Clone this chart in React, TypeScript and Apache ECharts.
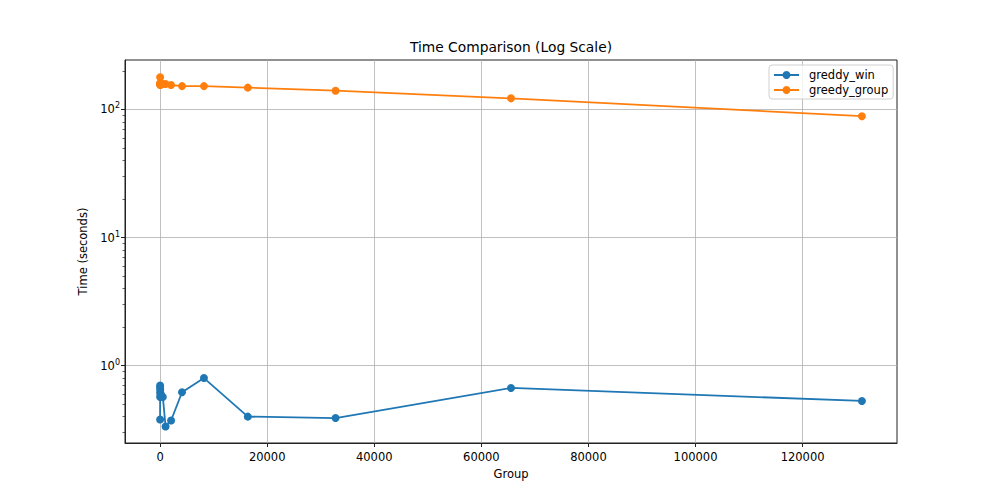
import React, { useEffect, useRef } from "react";
import * as echarts from "echarts";

const groups = [1, 2, 4, 8, 16, 32, 64, 128, 256, 512, 1024, 2048, 4096, 8192, 16384, 32768, 65536, 131072];
const greedyWin = [0.38, 0.57, 0.7, 0.68, 0.65, 0.62, 0.6, 0.59, 0.58, 0.57, 0.335, 0.373, 0.62, 0.8, 0.4, 0.39, 0.67, 0.53];
const greedyGroup = [178, 155, 160, 159, 158, 157, 157, 156, 157, 158, 158, 155, 152, 152, 148, 140, 122, 88.5];
const xTicks = [0, 20000, 40000, 60000, 80000, 100000, 120000];
const yTicks = [1, 10, 100];
const yMinorTicks = [0.3, 0.4, 0.5, 0.6, 0.7, 0.8, 0.9, 2, 3, 4, 5, 6, 7, 8, 9, 20, 30, 40, 50, 60, 70, 80, 90, 200];
const seriesNames = ["greddy_win", "greedy_group"];
const colors = ["#1f77b4", "#ff7f0e"];

const FONT = "DejaVu Sans";

export default function App() {
  const ref = useRef<HTMLDivElement>(null);
  useEffect(() => {
    if (!ref.current) return;
    const chart = echarts.init(ref.current, undefined, { renderer: "svg" });
    const mk = (vals: number[]) => groups.map((g, i) => [g, vals[i]]);
    const supMap: Record<number, string> = { 1: "0", 10: "1", 100: "2" };
    chart.setOption({
      animation: false,
      backgroundColor: "#fff",
      textStyle: { fontFamily: FONT },
      graphic: [
        {
          type: "text",
          x: 511,
          y: 47,
          style: {
            text: "Time Comparison (Log Scale)",
            fontFamily: FONT,
            fontSize: 13.8,
            fill: "#000",
            align: "center",
            verticalAlign: "middle",
          },
        },
      ],
      grid: {
        left: 125,
        right: 99,
        top: 60,
        bottom: 55,
        show: true,
        borderColor: "#222",
        borderWidth: 1,
        backgroundColor: "transparent",
      },
      legend: {
        left: 769,
        top: 65,
        orient: "vertical",
        itemGap: 3,
        itemWidth: 25,
        itemHeight: 10,
        padding: [4, 5, 3, 4],
        backgroundColor: "rgba(255,255,255,0.8)",
        borderColor: "#d0d0d0",
        borderWidth: 1,
        borderRadius: 3,
        textStyle: { fontFamily: FONT, fontSize: 11.5, color: "#000", padding: [0, 0, 0, 5] },
        data: seriesNames,
      },
      xAxis: {
        type: "value",
        min: -6554,
        max: 137626,
        splitNumber: 7,
        name: "Group",
        nameLocation: "middle",
        nameGap: 22,
        nameTextStyle: { fontFamily: FONT, fontSize: 11.5, color: "#000" },
        axisLine: { show: true, onZero: false, lineStyle: { color: "#222", width: 1 } },
        axisTick: { show: true, length: 4, customValues: xTicks, lineStyle: { color: "#222" } },
        axisLabel: {
          customValues: xTicks,
          margin: 8,
          fontFamily: FONT,
          fontSize: 11.5,
          color: "#000",
          formatter: (v: number) => String(v),
        },
        splitLine: { show: true, lineStyle: { color: "#b0b0b0", width: 0.8 } },
      },
      yAxis: [
        {
          type: "log",
          logBase: 10,
          min: 0.249,
          max: 243,
          position: "left",
          name: "Time (seconds)",
          nameLocation: "middle",
          nameGap: 33,
          nameRotate: 90,
          nameTextStyle: { fontFamily: FONT, fontSize: 11.5, color: "#000" },
          axisLine: { show: true, onZero: false, lineStyle: { color: "#222", width: 1 } },
          axisTick: { show: true, length: 4, customValues: yTicks, lineStyle: { color: "#222" } },
          axisLabel: {
            customValues: yTicks,
            margin: 5,
            fontFamily: FONT,
            fontSize: 11.5,
            color: "#000",
            formatter: (v: number) => {
              const k = Math.round(v);
              return "10{sup|" + (supMap[k] ?? "") + "}";
            },
            rich: {
              sup: { fontSize: 8, fontFamily: FONT, color: "#000", verticalAlign: "top", padding: [0, 0, 7, 0] },
            },
          },
          splitLine: { show: true, lineStyle: { color: "#b0b0b0", width: 0.8 } },
        },
        {
          type: "log",
          logBase: 10,
          min: 0.249,
          max: 243,
          position: "left",
          axisLine: { show: false, onZero: false },
          axisTick: { show: true, length: 2.5, customValues: yMinorTicks, lineStyle: { color: "#222", width: 0.7 } },
          axisLabel: { show: false },
          splitLine: { show: false },
        },
      ],
      series: seriesNames.map((name, i) => ({
        name,
        type: "line",
        data: mk(i === 0 ? greedyWin : greedyGroup),
        symbol: "circle",
        symbolSize: 8,
        color: colors[i],
        lineStyle: { width: 1.8, color: colors[i] },
        itemStyle: { color: colors[i] },
        z: 3,
      })),
    });
    return () => chart.dispose();
  }, []);
  return <div ref={ref} style={{ position: "fixed", left: 0, top: 0, width: 996, height: 498 }} />;
}
